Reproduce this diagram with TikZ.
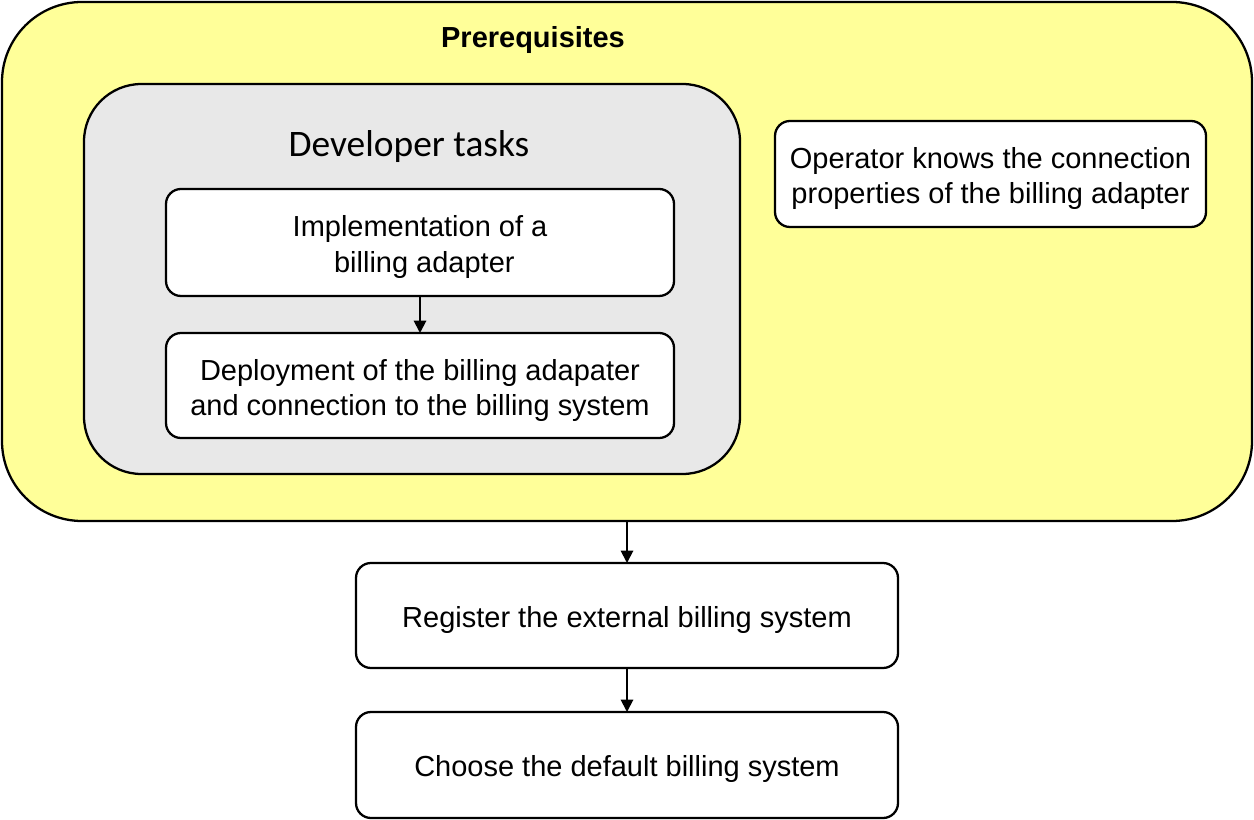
\documentclass[tikz,border=0pt]{standalone}
\usepackage{fontspec}
\setmainfont{Liberation Sans}
\newfontfamily\calfont{Carlito}
\usetikzlibrary{arrows.meta}
\definecolor{yel}{HTML}{FFFF99}
\definecolor{gry}{HTML}{E8E8E8}
\begin{document}
\begin{tikzpicture}[x=0.02cm,y=-0.02cm,
  box/.style={draw=black,line width=1.3pt,rounded corners=0.3cm,fill=white},
  arr/.style={-{Triangle[length=7pt,width=7pt]},line width=1.1pt},
  txt/.style={font=\fontsize{16.5pt}{20pt}\selectfont,align=center}]
\useasboundingbox (0,0) rectangle (1254,820);
\draw[line width=1.3pt,fill=yel,rounded corners=1.6cm] (2,2) rectangle (1252,521);
\node[font=\bfseries\fontsize{16.5pt}{20pt}\selectfont] (pre) at (533,40) {Prerequisites};
\draw[line width=1.3pt,fill=gry,rounded corners=1.15cm] (84,84) rectangle (740,474);
\node[font=\calfont\fontsize{21.3pt}{25pt}\selectfont] (dev) at (409,147) {Developer tasks};
\draw[box] (166,189) rectangle (674,296);
\node[txt] (impl) at (420,247) {Implementation of a\\ \hspace*{0.3em}billing adapter};
\draw[box] (166,333) rectangle (674,438);
\node[txt] (depl) at (420,390.5) {Deployment of the billing adapater\\and connection to the billing system};
\draw[box] (775,121) rectangle (1206,227);
\node[txt] (op) at (990.5,178.5) {Operator knows the connection\\properties of the billing adapter};
\draw[box] (356,563) rectangle (898,668);
\node[txt] (reg) at (627,620) {Register the external billing system};
\draw[box] (356,712) rectangle (898,818);
\node[txt] (cho) at (627,769.5) {Choose the default billing system};
\coordinate (a1) at (420,296); \coordinate (a2) at (420,333);
\coordinate (b1) at (627,521); \coordinate (b2) at (627,563);
\coordinate (c1) at (627,668); \coordinate (c2) at (627,712);
\draw[arr] (a1) -- (a2);
\draw[arr] (b1) -- (b2);
\draw[arr] (c1) -- (c2);
\end{tikzpicture}
\end{document}
